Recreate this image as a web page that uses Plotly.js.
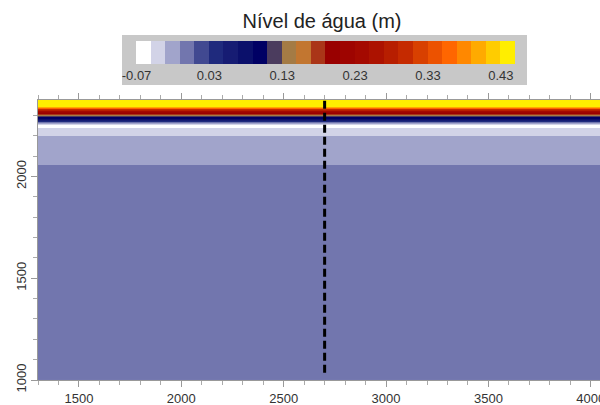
<!DOCTYPE html>
<html>
<head>
<meta charset="utf-8">
<script src="https://cdn.plot.ly/plotly-3.0.1.min.js"></script>
<style>html,body{margin:0;padding:0;background:#fff;}#chart{width:600px;height:405px;}</style>
</head>
<body>
<div id="chart"></div>
<script>
// Colour classes of the legend (0.02 m each, from -0.07 to 0.45)
const levelColors = ["#ffffff","#d2d3e7","#a1a4cb","#7276ae","#414991","#1f2a7d","#161c73","#0b106b","#000064",
  "#4b3c5e","#a47b45","#c27630","#aa3518","#990000","#9e0400","#a40900","#ac1200","#b71e00","#c52a00",
  "#d84000","#ec5200","#ff6600","#ff8800","#ffaa00","#ffcc00","#ffee00"];
const zMin = -0.07, zMax = 0.45;
const cbTickVals = [-0.0699, 0.03, 0.13, 0.23, 0.33, 0.43];
const cbTickText = ["-0.07", "0.03", "0.13", "0.23", "0.33", "0.43"];

// Horizontal bands of the field: y edges and water level inside each band (m)
const xEdges = [1300, 4100];
const yEdges = [1000, 2057, 2200, 2240, 2252, 2256, 2260, 2265, 2269, 2273, 2278, 2284, 2294, 2297, 2300,
  2302, 2305, 2311, 2315, 2319, 2323, 2327, 2329, 2331, 2333, 2335, 2337, 2339, 2341, 2380];
const bandLevel = [0.00, -0.02, -0.04, -0.06, -0.04, -0.02, 0.00, 0.02, 0.04, 0.06, 0.08, 0.10, 0.12, 0.14,
  0.16, 0.18, 0.20, 0.22, 0.24, 0.26, 0.28, 0.30, 0.32, 0.34, 0.36, 0.38, 0.40, 0.42, 0.44];

// Section line
const sectionX = [2700, 2700];
const sectionY = [1035, 2375];

const n = levelColors.length;
const colorscale = [];
levelColors.forEach((c, k) => { colorscale.push([k / n, c]); colorscale.push([(k + 1) / n, c]); });

const FONT = 'Liberation Sans, Arial, sans-serif';

const heat = {
  type: 'heatmap',
  x: xEdges,
  y: yEdges,
  z: bandLevel.map(v => [v]),
  zmin: zMin, zmax: zMax,
  colorscale: colorscale,
  zsmooth: false,
  hoverinfo: 'skip',
  colorbar: {
    orientation: 'h',
    xref: 'container', yref: 'container',
    thickness: 23, thicknessmode: 'pixels',
    len: 379, lenmode: 'pixels',
    x: 348 / 600, xanchor: 'center',
    y: 1 - 41 / 405, yanchor: 'top',
    xpad: 0, ypad: 0,
    bgcolor: 'rgba(0,0,0,0)',
    outlinewidth: 0, borderwidth: 0,
    tickmode: 'array', tickvals: cbTickVals, ticktext: cbTickText,
    ticks: '', ticklen: 0,
    tickfont: {family: FONT, size: 13, color: '#333'}
  }
};

const line = {
  type: 'scatter', mode: 'lines',
  x: sectionX, y: sectionY,
  line: {color: '#000', width: 3, dash: '8px,4px'},
  hoverinfo: 'skip', showlegend: false
};

const axisCommon = {
  showgrid: false, zeroline: false,
  showline: true, linecolor: '#999', linewidth: 1, mirror: 'ticks',
  ticks: 'outside', ticklen: 6, tickcolor: '#999', tickwidth: 1,
  ticklabeloverflow: 'allow',
  tickfont: {family: FONT, size: 13, color: '#333'},
  minor: {dtick: 100, ticks: 'outside', ticklen: 4, tickcolor: '#aaa', tickwidth: 1, showgrid: false}
};

const layout = {
  width: 600, height: 405,
  margin: {l: 38, r: 0, t: 100, b: 25, pad: 0},
  paper_bgcolor: '#fff', plot_bgcolor: '#fff',
  showlegend: false,
  title: {
    text: 'Nível de água (m)', xref: 'container', yref: 'container',
    x: 322 / 600, xanchor: 'center', y: 1 - 21 / 405, yanchor: 'middle',
    font: {family: FONT, size: 20, color: '#222'}
  },
  xaxis: Object.assign({}, axisCommon, {range: [1300, 4045], tick0: 1500, dtick: 500}),
  yaxis: Object.assign({}, axisCommon, {range: [1000, 2375], tick0: 1000, dtick: 500, tickangle: -90}),
  shapes: [{
    type: 'rect', xref: 'paper', yref: 'paper', layer: 'above',
    x0: (122 - 38) / 562, x1: (527 - 38) / 562,
    y0: (380 - 85) / 280, y1: (380 - 35) / 280,
    fillcolor: '#c8c8c8', line: {width: 0}
  }]
};

Plotly.newPlot('chart', [heat, line], layout, {displayModeBar: false, staticPlot: true});
</script>
</body>
</html>
